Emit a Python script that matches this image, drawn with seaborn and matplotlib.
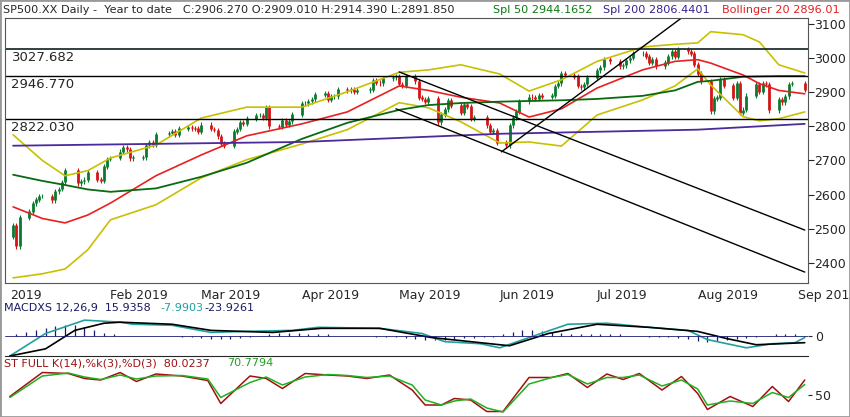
import numpy as np
import pandas as pd
import matplotlib
matplotlib.use("Agg")
import matplotlib.pyplot as plt
import seaborn as sns

# ---- price data (day offset from Jan 1 2019, close) ----
days = [1,2,3,6,7,8,9,10,13,14,15,16,17,21,22,23,24,27,28,29,30,
        31,34,35,36,37,38,41,42,43,44,45,49,50,51,52,55,56,57,58,
        59,62,63,64,65,66,69,70,71,72,73,76,77,78,79,80,83,84,85,86,87,
        90,91,92,93,94,97,98,99,100,101,104,105,106,107,111,112,113,114,115,118,119,
        120,121,122,125,126,127,128,129,132,133,134,135,136,139,140,141,142,143,147,148,149,150,
        153,154,155,156,157,160,161,162,163,164,167,168,169,170,171,174,175,176,177,178,
        181,182,183,185,188,189,190,191,192,195,196,197,198,199,202,203,204,205,206,209,210,211,
        212,213,216,217,218,219,220,223,224,225,226,227,230,231,232,233,234,237,238,239,240,241,245]
closes = [2510,2448,2532,2550,2574,2585,2596,2596,2583,2610,2616,2636,2671,2633,2639,2643,2665,2644,2640,2682,2704,
          2707,2725,2738,2732,2706,2708,2709,2744,2753,2746,2776,2780,2784,2775,2793,2796,2794,2793,2784,
          2804,2792,2789,2771,2749,2743,2784,2792,2811,2808,2822,2833,2833,2824,2854,2800,2798,2818,2805,2815,2834,
          2867,2867,2873,2879,2892,2895,2878,2888,2888,2907,2905,2907,2900,2905,2907,2934,2927,2926,2940,2943,2946,
          2924,2918,2946,2932,2884,2880,2871,2881,2812,2834,2850,2876,2860,2840,2864,2857,2822,2826,2803,2783,2789,2752,
          2744,2803,2826,2843,2873,2886,2885,2880,2891,2887,2890,2918,2926,2954,2950,2945,2918,2914,2924,2942,
          2964,2973,2996,2990,2976,2979,2993,3000,3014,3014,3004,2985,2995,2976,2986,3005,3020,3004,3026,3020,3013,2980,
          2954,2932,2844,2881,2884,2938,2919,2883,2926,2840,2848,2889,2924,2900,2925,2923,2847,2878,2870,2888,2924,2926,2906]
first_open = 2477

# ---- indicator readings ----
ind_days = [1,10,17,24,31,45,59,73,90,104,120,129,139,151,160,170,181,195,205,212,216,226,231,237,245]
sma50 = [2658,2640,2628,2615,2608,2618,2652,2693,2763,2810,2848,2862,2868,2872,2874,2876,2880,2889,2905,2930,2933,2945,2946,2947,2947]
boll_mid = [2564,2530,2517,2540,2575,2655,2716,2772,2807,2842,2918,2905,2885,2868,2827,2851,2912,2965,2990,2995,2985,2950,2925,2905,2895]
boll_up = [2775,2700,2655,2670,2707,2745,2824,2856,2856,2901,2958,2965,2980,2953,2903,2936,2990,3032,3040,3044,3077,3068,3047,2980,2956]
boll_lo = [2356,2368,2382,2438,2526,2570,2649,2702,2748,2790,2869,2854,2813,2751,2754,2742,2833,2877,2918,2968,2921,2828,2816,2822,2842]
sma200_days = [1,90,151,212,245]
sma200 = [2743,2754,2778,2790,2807]
levels = [3027.682, 2946.770, 2822.030]
trend_lines = [((120,2959),(245,2496)), ((119,2851),(245,2373)), ((151.5,2725),(207,3117))]

# MACD (chart units)
sig_days = [0,11,23,34,38,50,62,72,87,95,114,127,134,145,151,160,172,184,197,209,215,227,235,242,245]
sig_vals = [-20,2,15,13,11,10,3,4,5,8,7,2,-6,-8,-12,-2,11,12,8,5,-4,-12,-8,-7,-2]
macd_days = [0,11,20,29,34,50,62,81,96,114,130,142,154,166,181,197,212,221,230,245]
macd_vals = [-20,-13,5,12,13,11,5,3,7,7,-2,-6,-10,2,11,8,4,-3,-9,-7]
hist_vals = [1,3,5,7,9,10,10,8,5,2,
             1,0,0,0,0,0,0,
             -1,-1,-2,-3,-3,-3,-2,-1,
             0,1,2,2,2,1,1,1,0,0,0,0,
             -1,-1,-1,-2,-3,-4,-4,-4,-3,-2,-2,-1,-1,
             1,3,5,5,4,3,2,1,1,1,1,1,1,0,0,
             -1,-1,-1,-2,-3,-5,-6,-5,-4,-3,-2,-1,0,1,1,1]
hist_days = list(range(2, 245, 3))

# Stochastic
st_days = [0,10,18,23,28,34,39,45,53,61,65,74,79,84,91,98,104,110,117,124,128,133,137,142,147,152,
           160,167,172,178,184,189,194,201,207,212,215,222,229,235,240,245]
st_k = [47,95,93,83,80,95,77,92,88,79,33,88,83,63,93,90,88,83,90,60,30,30,43,40,17,17,
        85,85,93,65,92,81,93,60,87,53,21,47,27,67,37,80]
st_d = [45,88,94,86,81,90,82,88,89,82,45,75,86,70,86,91,89,85,88,70,40,30,38,42,24,16,
        72,85,91,72,85,85,90,68,80,62,30,38,33,55,45,71]

month_ticks = [0,31,59,90,120,151,181,212,243]
month_labels = ["2019","Feb 2019","Mar 2019","Apr 2019","May 2019","Jun 2019","Jul 2019","Aug 2019","Sep 2019"]

sns.set_style("white")
plt.rcParams["font.family"] = ["DejaVu Sans"]
plt.rcParams["font.size"] = 9

fig = plt.figure(figsize=(8.5, 4.17), dpi=100)
W, H = 850, 417
def ax_at(x0, y0, x1, y1):
    return fig.add_axes([x0/W, 1-y1/H, (x1-x0)/W, (y1-y0)/H])

def ftext(x, y, s, **kw):
    fig.text(x/W, 1-y/H, s, va="center", ha="left", **kw)

ax = ax_at(5, 18, 808, 283)
axm = ax_at(5, 314, 808, 356)
axs = ax_at(5, 368, 808, 413)

# candles
opens = [first_open] + closes[:-1]
for d, o, c in zip(days, opens, closes):
    col = "#0b7a2e" if c >= o else "#d41515"
    ax.vlines(d, min(o, c) - 7, max(o, c) + 7, color=col, lw=0.8)
    ax.vlines(d, min(o, c), max(o, c) + 1, color=col, lw=2.0)

sns.lineplot(x=ind_days, y=boll_up, ax=ax, color="#c8c000", lw=1.2)
sns.lineplot(x=ind_days, y=boll_lo, ax=ax, color="#c8c000", lw=1.2)
sns.lineplot(x=ind_days, y=boll_mid, ax=ax, color="#e82020", lw=1.2)
sns.lineplot(x=ind_days, y=sma50, ax=ax, color="#0a6a10", lw=1.3)
sns.lineplot(x=sma200_days, y=sma200, ax=ax, color="#4b2a9a", lw=1.3)
for i, lv in enumerate(levels):
    ax.axhline(lv, color="#203030" if i == 0 else "black", lw=1.3 if i == 0 else 1.0)
    ax.text(0.5, lv - 6, f"{lv:.3f}", va="top", ha="left", fontsize=9.5)
for (x0, y0), (x1, y1) in trend_lines:
    ax.plot([x0, x1], [y0, y1], color="black", lw=1.0)

ax.set_xlim(-1.5, 246)
ax.set_ylim(2341, 3117)
ax.yaxis.tick_right()
ax.set_yticks(range(2400, 3101, 100))
ax.set_xticks(month_ticks)
ax.set_xticklabels(month_labels)
ax.tick_params(direction="out", length=4, labelsize=9, pad=0.5)
for l in ax.get_xticklabels():
    l.set_ha("left")
for s in ax.spines.values():
    s.set_color("#555555")

# header
ftext(3, 10, "SP500.XX Daily -  Year to date   C:2906.270 O:2909.010 H:2914.390 L:2891.850", fontsize=8.1)
ftext(493, 10, "Spl 50 2944.1652", color="#0a7a10", fontsize=8.1)
ftext(603, 10, "Spl 200 2806.4401", color="#3a2090", fontsize=8.1)
ftext(722, 10, "Bollinger 20 2896.01", color="#e02020", fontsize=8.1)

# MACD
axm.vlines(hist_days, 0, hist_vals, color="#1a1a70", lw=0.9)
sns.lineplot(x=sig_days, y=sig_vals, ax=axm, color="#20a0a0", lw=1.2)
sns.lineplot(x=macd_days, y=macd_vals, ax=axm, color="black", lw=1.2)
axm.axhline(0, color="#1a1a70", lw=0.6)
axm.set_xlim(-1.5, 246)
axm.set_ylim(-20, 21)
axm.yaxis.tick_right()
axm.set_yticks([0])
axm.set_xticks([])
axm.tick_params(direction="out", length=3, labelsize=9, pad=2)
for k, s in axm.spines.items():
    s.set_visible(k == "bottom")
ftext(4, 308, "MACDXS 12,26,9  15.9358", color="#1a1a60", fontsize=8)
ftext(160, 308, "-7.9903", color="#20a0a0", fontsize=8)
ftext(204, 308, "-23.9261", color="#1a1a60", fontsize=8)

# Stochastic
sns.lineplot(x=st_days, y=st_k, ax=axs, color="#a01010", lw=1.1)
sns.lineplot(x=st_days, y=st_d, ax=axs, color="#20b020", lw=1.1)
axs.set_xlim(-1.5, 246)
axs.set_ylim(14, 104)
axs.yaxis.tick_right()
axs.set_yticks([50])
axs.set_xticks([])
axs.tick_params(direction="out", length=3, labelsize=9, pad=2)
for k, s in axs.spines.items():
    s.set_visible(False)
ftext(4, 363, "ST FULL K(14),%k(3),%D(3)  80.0237", color="#a01010", fontsize=8)
ftext(227, 363, "70.7794", color="#20a020", fontsize=8)

fig.patches.append(plt.Rectangle((0, 0), 1, 1, transform=fig.transFigure, fill=False,
                                 edgecolor="#999999", lw=2))
fig.savefig("out.png", dpi=100)
